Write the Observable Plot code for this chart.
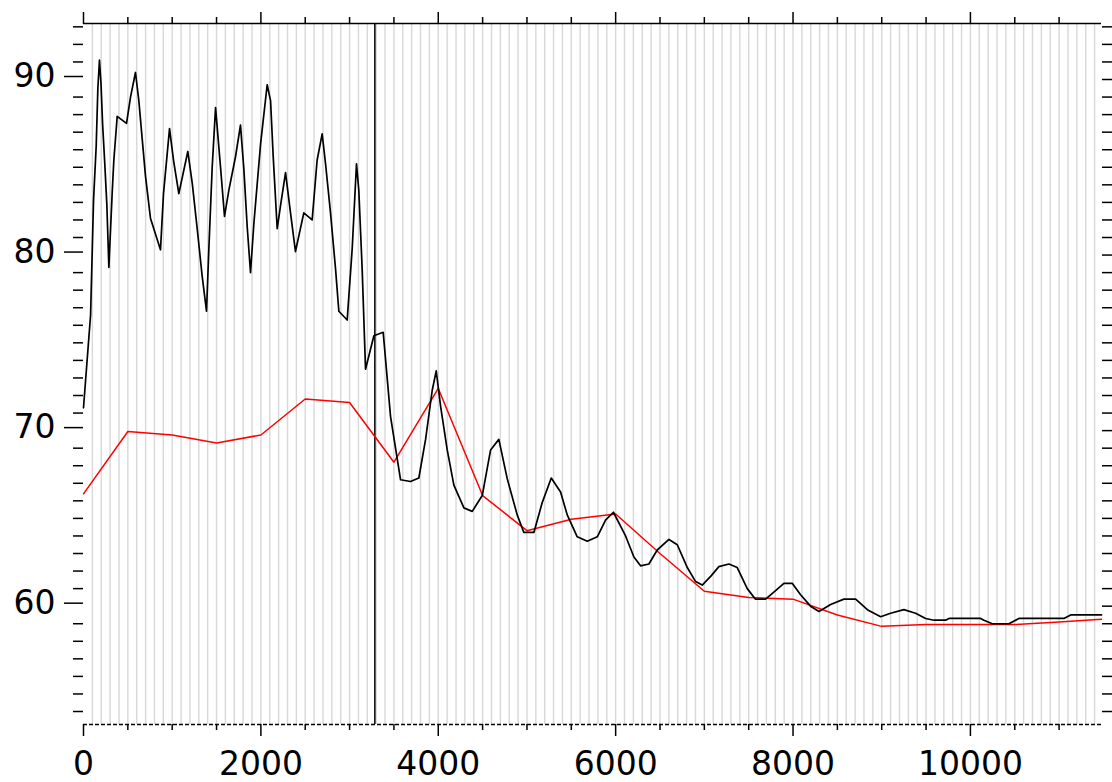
<!DOCTYPE html>
<html>
<head>
<meta charset="utf-8">
<script src="https://cdn.jsdelivr.net/npm/d3@7"></script>
<script src="https://cdn.jsdelivr.net/npm/@observablehq/plot@0.6"></script>
<style>
  html, body { margin: 0; padding: 0; background: #fff; }
  #chart svg { display: block; }
</style>
</head>
<body>
<div id="chart"></div>
<script>
// ---- data ----
const blackX = [0, 80, 113, 143, 162, 180, 197, 215, 240, 263, 286, 323, 342, 380, 485, 530, 586, 624, 662, 699, 755, 868, 902, 970, 1015, 1075, 1176, 1226, 1282, 1338, 1387, 1413, 1451, 1489, 1507, 1545, 1590, 1639, 1714, 1770, 1808, 1846, 1883, 1921, 1996, 2071, 2109, 2139, 2184, 2221, 2278, 2334, 2390, 2484, 2578, 2634, 2691, 2729, 2785, 2842, 2879, 2973, 3030, 3078, 3104, 3142, 3180, 3274, 3379, 3462, 3575, 3687, 3781, 3857, 3932, 3977, 4026, 4101, 4176, 4289, 4383, 4496, 4590, 4683, 4778, 4890, 4965, 5078, 5172, 5274, 5379, 5454, 5567, 5680, 5793, 5886, 5975, 6112, 6206, 6281, 6375, 6469, 6601, 6695, 6808, 6901, 6977, 7071, 7164, 7277, 7371, 7484, 7577, 7690, 7784, 7897, 7991, 8085, 8198, 8292, 8424, 8574, 8706, 8838, 8988, 9100, 9250, 9382, 9495, 9589, 9720, 9758, 10115, 10152, 10247, 10434, 10547, 11054, 11130, 11478];
const blackY = [71.3, 76.6, 83.1, 86.2, 89.5, 91.1, 89.8, 87.5, 85.2, 82.9, 79.3, 83.5, 85.4, 87.9, 87.5, 89.0, 90.4, 88.8, 86.6, 84.5, 82.1, 80.3, 83.5, 87.2, 85.4, 83.5, 85.9, 84.1, 81.5, 78.8, 76.8, 80.3, 85.0, 88.4, 87.3, 85.0, 82.2, 83.7, 85.6, 87.4, 84.9, 81.6, 79.0, 81.8, 86.3, 89.7, 88.8, 85.6, 81.5, 82.8, 84.7, 82.4, 80.2, 82.4, 82.0, 85.4, 86.9, 85.2, 82.4, 79.2, 76.8, 76.3, 80.4, 85.2, 83.7, 79.2, 73.5, 75.4, 75.6, 70.8, 67.2, 67.1, 67.3, 69.5, 72.3, 73.4, 71.4, 68.9, 66.9, 65.6, 65.4, 66.3, 68.9, 69.5, 67.25, 65.2, 64.2, 64.2, 65.9, 67.3, 66.5, 65.2, 63.95, 63.7, 63.95, 64.9, 65.35, 64.0, 62.8, 62.3, 62.4, 63.2, 63.8, 63.5, 62.2, 61.4, 61.2, 61.7, 62.25, 62.4, 62.2, 61.0, 60.4, 60.4, 60.8, 61.3, 61.3, 60.65, 60.0, 59.7, 60.1, 60.4, 60.4, 59.8, 59.4, 59.6, 59.8, 59.6, 59.3, 59.2, 59.2, 59.3, 59.3, 59.2, 59.0, 59.0, 59.3, 59.3, 59.5, 59.5];

const redX = [0, 500, 1000, 1500, 2000, 2500, 3000, 3500, 4000, 4500, 5000, 5500, 6000, 6500, 7000, 7500, 8000, 8500, 9000, 9500, 10000, 10500, 11000, 11478];
const redY = [66.4, 69.95, 69.75, 69.3, 69.75, 71.8, 71.6, 68.2, 72.4, 66.3, 64.3, 64.95, 65.25, 63.0, 60.85, 60.5, 60.4, 59.5, 58.85, 58.95, 58.95, 58.95, 59.1, 59.25];

const markerX = [3285];

const xMajorTicks = [0, 2000, 4000, 6000, 8000, 10000];
const xMinorTicks = [500, 1000, 1500, 2500, 3000, 3500, 4500, 5000, 5500, 6500, 7000, 7500, 8500, 9000, 9500, 10500, 11000];
const yMajorTicks = [60, 70, 80, 90];
const yMinorTicks = [54, 55, 56, 57, 58, 59, 61, 62, 63, 64, 65, 66, 67, 68, 69, 71, 72, 73, 74, 75, 76, 77, 78, 79, 81, 82, 83, 84, 85, 86, 87, 88, 89, 91, 92, 93];

const xDomain = [0, 11478];
const yDomain = [53.26, 93.19];

// ---- derived tables ----
const black = blackX.map((x, i) => ({x, y: blackY[i]}));
const red = redX.map((x, i) => ({x, y: redY[i]}));
const gridX = d3.range(100, xDomain[1], 100);
const yAllTicks = [...yMajorTicks, ...yMinorTicks];
const blank = () => "";
const ax = {label: null, stroke: "#000", strokeWidth: 1.5};

const chart = Plot.plot({
  width: 1112,
  height: 782,
  marginLeft: 83,
  marginRight: 11,
  marginTop: 23,
  marginBottom: 58,
  x: {domain: xDomain, label: null},
  y: {domain: yDomain, label: null},
  style: {fontFamily: "'DejaVu Sans', sans-serif", fontSize: "33px", background: "#fff", color: "#000"},
  marks: [
    Plot.ruleX(gridX, {stroke: "#d8d8d8", strokeWidth: 1.4}),
    Plot.ruleY([yDomain[1]], {stroke: "#000", strokeWidth: 1.7}),
    Plot.ruleY([yDomain[0]], {stroke: "#000", strokeWidth: 1.7, strokeDasharray: "4,2"}),
    // top axis ticks
    Plot.axisX({...ax, anchor: "top", ticks: xMinorTicks, tickSize: 7, tickFormat: blank}),
    Plot.axisX({...ax, anchor: "top", ticks: xMajorTicks, tickSize: 12, tickFormat: blank}),
    // bottom axis
    Plot.axisX({...ax, anchor: "bottom", ticks: xMinorTicks, tickSize: 6, tickFormat: blank}),
    Plot.axisX({...ax, anchor: "bottom", ticks: xMajorTicks, tickSize: 12, tickPadding: 15, tickFormat: d => String(d), fontSize: 33}),
    // left axis
    Plot.axisY({...ax, anchor: "left", ticks: yMinorTicks, tickSize: 10, tickFormat: blank}),
    Plot.axisY({...ax, anchor: "left", ticks: yMajorTicks, tickSize: 19, tickPadding: 9, dy: -3, tickFormat: d => String(d), fontSize: 33}),
    // right axis
    Plot.axisY({...ax, anchor: "right", ticks: yAllTicks, tickSize: 10, tickFormat: blank}),
    // vertical marker
    Plot.ruleX(markerX, {stroke: "#000", strokeWidth: 1.5}),
    // series
    Plot.line(red, {x: "x", y: "y", stroke: "#ff0000", strokeWidth: 1.5}),
    Plot.line(black, {x: "x", y: "y", stroke: "#000", strokeWidth: 1.7})
  ]
});
document.getElementById("chart").appendChild(chart);
</script>
</body>
</html>
